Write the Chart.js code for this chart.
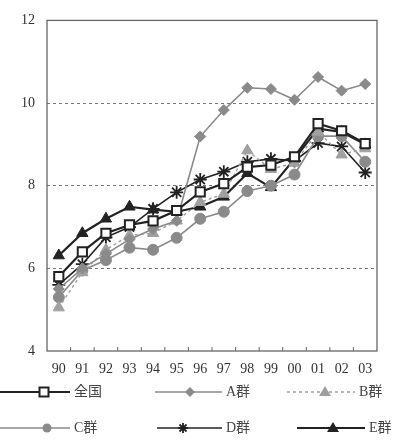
<!DOCTYPE html>
<html>
<head>
<meta charset="utf-8">
<script src="https://cdn.jsdelivr.net/npm/chart.js@4.4.1/dist/chart.umd.min.js"></script>
<style>
  html, body { margin: 0; padding: 0; background: #fff; }
  #wrap { position: relative; width: 401px; height: 447px; overflow: hidden; }
  #c { position: absolute; left: 0; top: 0; }
  #legend { position: absolute; left: 0; top: 372px; width: 401px; height: 75px; }
  .lt { position: absolute; font-family: "Liberation Serif", "Noto Sans CJK JP", serif; font-size: 14px; color: #444; line-height: 16px; }
</style>
</head>
<body>
<div id="wrap">
  <canvas id="c" width="401" height="395"></canvas>
  <div id="legend"></div>
</div>
<script>
const years = ["90","91","92","93","94","95","96","97","98","99","00","01","02","03"];
const yTicks = [4, 6, 8, 10, 12];
const seriesNames = ["全国", "A群", "B群", "C群", "D群", "E群"];
const zenkoku = [5.8, 6.4, 6.85, 7.05, 7.15, 7.4, 7.85, 8.05, 8.45, 8.5, 8.7, 9.5, 9.33, 9.02];
const groupA  = [5.5, 6.0, 6.35, 6.7, 6.95, 7.15, 9.19, 9.83, 10.37, 10.34, 10.08, 10.63, 10.3, 10.46];
const groupB  = [5.05, 5.9, 6.45, 6.8, 6.85, 7.15, 7.6, 7.8, 8.85, 8.4, 8.55, 9.3, 8.75, 8.9];
const groupC  = [5.3, 5.95, 6.2, 6.5, 6.45, 6.74, 7.2, 7.37, 7.87, 8.0, 8.27, 9.2, 9.2, 8.58];
const groupD  = [5.6, 6.1, 6.75, 7.0, 7.44, 7.84, 8.15, 8.34, 8.58, 8.65, 8.6, 9.03, 8.95, 8.32];
const groupE  = [6.31, 6.85, 7.2, 7.49, 7.42, 7.37, 7.49, 7.73, 8.3, 7.96, 8.65, 9.38, 9.3, 9.0];

const BLACK = "#222";
const GRAY = "#8a8a8a";
const LGRAY = "#a0a0a0";

const styles = [
  { color: BLACK, width: 2.2, dash: [], point: "rect", radius: 6.5, fill: "#fff", pborder: BLACK, pwidth: 2 },
  { color: GRAY, width: 1.6, dash: [], point: "rectRot", radius: 5.5, fill: GRAY, pborder: GRAY, pwidth: 1 },
  { color: LGRAY, width: 1.4, dash: [3, 3], point: "triangle", radius: 6.5, fill: LGRAY, pborder: LGRAY, pwidth: 1 },
  { color: GRAY, width: 1.6, dash: [], point: "circle", radius: 5.5, fill: GRAY, pborder: GRAY, pwidth: 1 },
  { color: BLACK, width: 1.6, dash: [], point: "star", radius: 6.5, fill: BLACK, pborder: BLACK, pwidth: 1.8 },
  { color: BLACK, width: 2.2, dash: [], point: "triangle", radius: 6.5, fill: BLACK, pborder: BLACK, pwidth: 1 }
];
const allData = [zenkoku, groupA, groupB, groupC, groupD, groupE];

const datasets = allData.map((d, i) => ({
  label: seriesNames[i],
  data: d,
  borderColor: styles[i].color,
  borderWidth: styles[i].width,
  borderDash: styles[i].dash,
  pointStyle: styles[i].point,
  pointRadius: styles[i].radius,
  pointBackgroundColor: styles[i].fill,
  pointBorderColor: styles[i].pborder,
  pointBorderWidth: styles[i].pwidth,
  tension: 0,
  fill: false
}));

const frame = {
  id: "frame",
  afterDraw(chart) {
    const { ctx, chartArea: a, scales: { x } } = chart;
    ctx.save();
    ctx.strokeStyle = "#666";
    ctx.lineWidth = 1.3;
    ctx.strokeRect(a.left, a.top, a.right - a.left, a.bottom - a.top);
    ctx.lineWidth = 1;
    for (let i = 0; i < years.length - 1; i++) {
      const px = (x.getPixelForTick(i) + x.getPixelForTick(i + 1)) / 2;
      ctx.beginPath();
      ctx.moveTo(px, a.bottom);
      ctx.lineTo(px, a.bottom - 4);
      ctx.stroke();
    }
    ctx.restore();
  }
};

new Chart(document.getElementById("c"), {
  type: "line",
  data: { labels: years, datasets },
  plugins: [frame],
  options: {
    responsive: false,
    animation: false,
    layout: { padding: { left: 0, right: 24, top: 12, bottom: 0 } },
    plugins: { legend: { display: false }, tooltip: { enabled: false } },
    scales: {
      x: {
        offset: true,
        grid: { display: false },
        border: { display: false },
        ticks: { color: "#333", padding: 2, font: { family: "Liberation Serif", size: 14 }, maxRotation: 0, autoSkip: false },
        afterFit(s) { s.height = 44; }
      },
      y: {
        min: 4, max: 12,
        afterBuildTicks(s) { s.ticks = yTicks.map(v => ({ value: v })); },
        grid: {
          drawTicks: false,
          color: c => (c.tick && (c.tick.value === 4 || c.tick.value === 12)) ? "rgba(0,0,0,0)" : "#777",
          lineWidth: 1
        },
        border: { display: false, dash: [3, 3] },
        ticks: { color: "#333", padding: 12, font: { family: "Liberation Serif", size: 14 } },
        afterFit(s) { s.width = 47; }
      }
    }
  }
});

// legend (HTML text + SVG samples)
const legendItems = [
  { x0: 0, x1: 70, mx: 44, tx: 74, row: 0 },
  { x0: 155, x1: 222, mx: 190, tx: 226, row: 0 },
  { x0: 287, x1: 355, mx: 325, tx: 359, row: 0 },
  { x0: 0, x1: 70, mx: 47, tx: 74, row: 1 },
  { x0: 157, x1: 222, mx: 183, tx: 226, row: 1 },
  { x0: 297, x1: 365, mx: 333, tx: 369, row: 1 }
];
const rowY = [20, 56];
const leg = document.getElementById("legend");
const NS = "http://www.w3.org/2000/svg";
const svg = document.createElementNS(NS, "svg");
svg.setAttribute("width", "401");
svg.setAttribute("height", "75");
svg.style.position = "absolute";
svg.style.left = "0";
svg.style.top = "0";
leg.appendChild(svg);
function el(tag, attrs) {
  const e = document.createElementNS(NS, tag);
  for (const k in attrs) e.setAttribute(k, attrs[k]);
  svg.appendChild(e);
  return e;
}
legendItems.forEach((it, i) => {
  const s = styles[i];
  const y = rowY[it.row];
  el("line", { x1: it.x0, y1: y, x2: it.x1, y2: y, stroke: s.color, "stroke-width": s.width, "stroke-dasharray": s.dash.length ? s.dash.join(",") : "none" });
  const m = it.mx;
  if (s.point === "rect") {
    el("rect", { x: m - 4.5, y: y - 4.5, width: 9, height: 9, fill: "#fff", stroke: BLACK, "stroke-width": 2 });
  } else if (s.point === "rectRot") {
    el("polygon", { points: `${m},${y-5} ${m+5},${y} ${m},${y+5} ${m-5},${y}`, fill: GRAY });
  } else if (s.point === "triangle") {
    el("polygon", { points: `${m},${y-6} ${m+6},${y+4} ${m-6},${y+4}`, fill: s.fill });
  } else if (s.point === "circle") {
    el("circle", { cx: m, cy: y, r: 4.5, fill: GRAY });
  } else if (s.point === "star") {
    const r = 5;
    el("path", { d: `M${m-r},${y} L${m+r},${y} M${m},${y-r} L${m},${y+r} M${m-r*0.7},${y-r*0.7} L${m+r*0.7},${y+r*0.7} M${m-r*0.7},${y+r*0.7} L${m+r*0.7},${y-r*0.7}`, stroke: BLACK, "stroke-width": 1.8 });
  }
  const t = document.createElement("span");
  t.className = "lt";
  t.textContent = seriesNames[i];
  t.style.left = it.tx + "px";
  t.style.top = (y - 8) + "px";
  leg.appendChild(t);
});
</script>
</body>
</html>
